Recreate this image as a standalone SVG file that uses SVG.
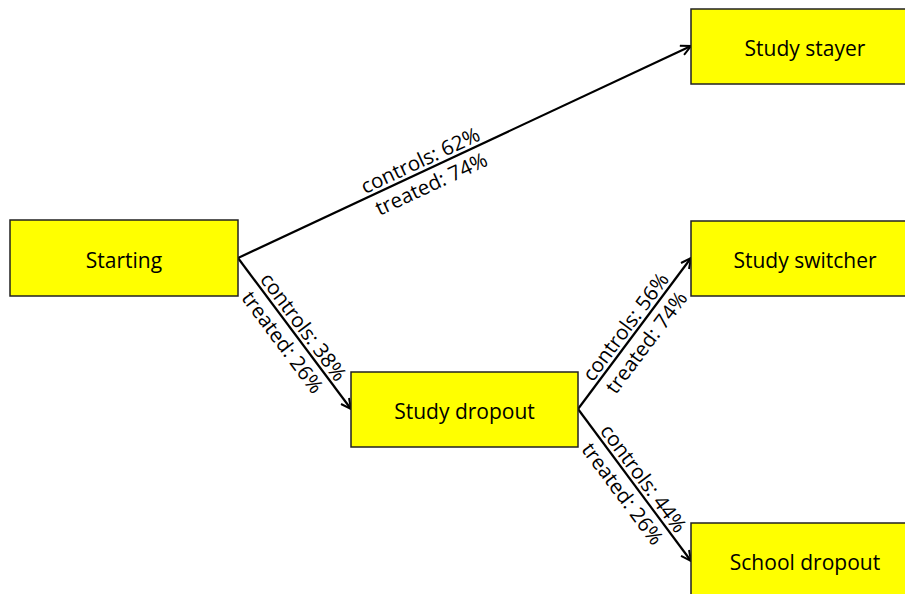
<svg xmlns="http://www.w3.org/2000/svg" width="905" height="594" viewBox="0 0 905 594">
<style>
.box{fill:#ffff00;stroke:#222;stroke-width:1.5}
.nt{font-family:"Open Sans","Noto Sans",sans-serif;font-size:21px;fill:#000;text-anchor:middle}
.lt{font-family:"Open Sans","Noto Sans",sans-serif;font-size:20.5px;fill:#000;text-anchor:middle}
.edge{stroke:#000;stroke-width:2.2;fill:none;marker-end:url(#arr)}
</style>
<defs>
<marker id="arr" viewBox="0 0 12 12" refX="11" refY="6" markerWidth="12" markerHeight="12" markerUnits="userSpaceOnUse" orient="auto">
<path d="M1,1 L11,6 L1,11" fill="none" stroke="#000" stroke-width="2"/>
</marker>
</defs>
<rect width="905" height="594" fill="#fff"/>
<g id="edges">
<line class="edge" x1="238" y1="258" x2="691" y2="46"/>
<line class="edge" x1="238" y1="258" x2="351" y2="409"/>
<line class="edge" x1="578" y1="409" x2="691" y2="258"/>
<line class="edge" x1="578" y1="409" x2="691" y2="561"/>
<g transform="translate(425,170.5) rotate(-25.08)"><text class="lt" y="-4">controls: 62%</text><text class="lt" y="22">treated: 74%</text></g>
<g transform="translate(294.5,333.5) rotate(53.36)"><text class="lt" y="-4">controls: 38%</text><text class="lt" y="22">treated: 26%</text></g>
<g transform="translate(634.5,333.5) rotate(-53.2)"><text class="lt" y="-4">controls: 56%</text><text class="lt" y="22">treated: 74%</text></g>
<g transform="translate(634.5,485) rotate(53.38)"><text class="lt" y="-4">controls: 44%</text><text class="lt" y="22">treated: 26%</text></g>
</g>
<g id="starting"><rect class="box" x="10" y="220" width="228" height="76"/><text class="nt" x="124" y="267.5">Starting</text></g>
<g id="stayer"><rect class="box" x="691" y="9" width="228" height="75"/><text class="nt" x="805" y="56">Study stayer</text></g>
<g id="switcher"><rect class="box" x="691" y="221" width="228" height="75"/><text class="nt" x="805" y="268">Study switcher</text></g>
<g id="dropout"><rect class="box" x="351" y="372" width="227" height="75"/><text class="nt" x="464.5" y="419">Study dropout</text></g>
<g id="school"><rect class="box" x="691" y="523" width="228" height="75"/><text class="nt" x="805" y="570">School dropout</text></g>
</svg>
